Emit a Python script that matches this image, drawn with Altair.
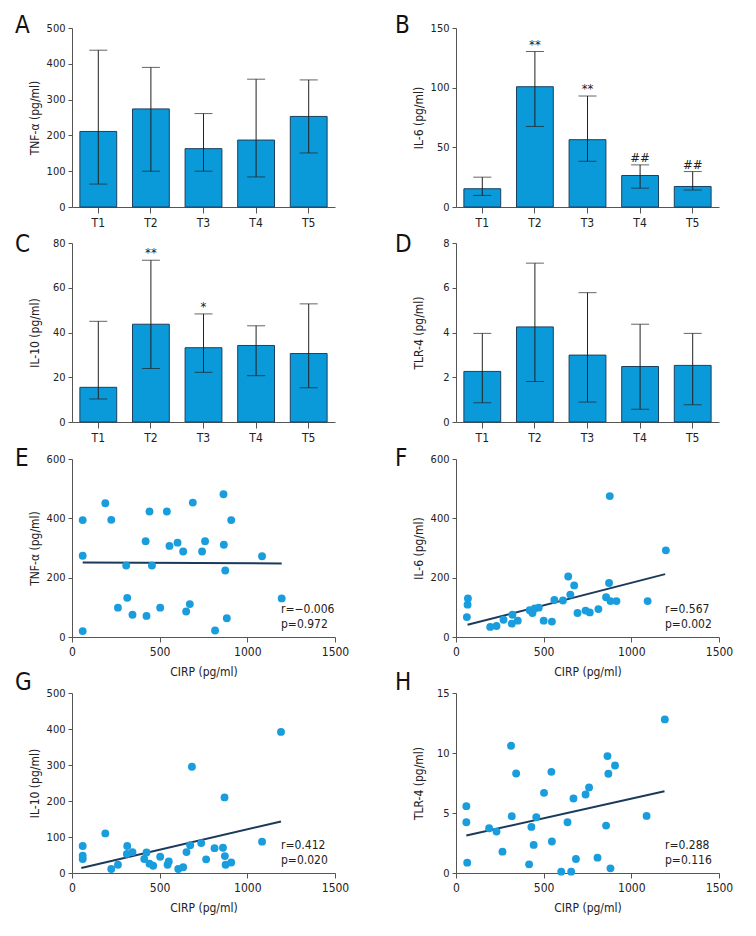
import altair as alt
import pandas as pd

FONT = "Liberation Sans Narrow, DejaVu Sans Condensed, sans-serif"
BAR_FILL = "#0a9ad9"
BAR_EDGE = "#1d3f5e"
ERR = "#222222"
DOT = "#1a9ddc"
LINE = "#1b3a5a"
AXIS = "#555555"

# ---------------- bar-chart data (T1..T5) ----------------
groups = ["T1", "T2", "T3", "T4", "T5"]

tnf_bar = [211, 274, 163, 187, 253]
tnf_lo = [64, 100, 100, 84, 151]
tnf_hi = [438, 390, 261, 357, 355]
tnf_sig = ["", "", "", "", ""]

il6_bar = [15.3, 100.8, 56.4, 26.4, 17.2]
il6_lo = [9.7, 67.5, 38.3, 15.8, 14.2]
il6_hi = [25.0, 130.3, 93.0, 35.3, 29.7]
il6_sig = ["", "**", "**", "##", "##"]

il10_bar = [15.5, 43.7, 33.2, 34.2, 30.6]
il10_lo = [10.3, 23.9, 22.2, 20.7, 15.3]
il10_hi = [45.0, 72.3, 48.3, 43.0, 52.8]
il10_sig = ["", "**", "*", "", ""]

tlr4_bar = [2.26, 4.25, 2.99, 2.48, 2.53]
tlr4_lo = [0.86, 1.81, 0.89, 0.57, 0.77]
tlr4_hi = [3.96, 7.10, 5.78, 4.37, 3.96]
tlr4_sig = ["", "", "", "", ""]

# ---------------- scatter data (CIRP vs cytokine) ----------------
e_cirp = [61, 61, 61, 190, 224, 309, 315, 262, 345, 420, 442, 425, 456, 503, 541, 556,
          602, 634, 651, 672, 689, 742, 759, 816, 864, 866, 874, 883, 908, 1084, 1196]
e_tnf = [20, 274, 394, 451, 395, 241, 132, 99, 75, 323, 423, 71, 241, 99, 423, 307,
         318, 288, 86, 111, 453, 288, 323, 22, 481, 311, 224, 63, 394, 272, 130]
e_fit_x = [61, 1196]
e_fit_y = [251, 248]

f_cirp = [62, 66, 68, 195, 231, 271, 318, 322, 352, 420, 436, 449, 472, 500, 547, 561,
          610, 640, 652, 674, 693, 739, 763, 812, 856, 873, 881, 915, 877, 1093, 1197]
f_il6 = [67, 109, 130, 34, 37, 58, 45, 75, 55, 90, 81, 96, 99, 55, 52, 125,
         123, 204, 143, 174, 81, 89, 83, 94, 134, 182, 121, 121, 475, 121, 292]
f_fit_x = [66, 1193]
f_fit_y = [41, 212]

g_cirp = [61, 61, 61, 190, 224, 262, 315, 313, 345, 412, 425, 442, 463, 503, 545, 552,
          606, 634, 653, 674, 684, 737, 765, 813, 861, 872, 876, 870, 908, 1084, 1192]
g_il10 = [75, 48, 39, 110, 11, 23, 75, 53, 58, 39, 57, 26, 20, 45, 23, 32,
          11, 16, 58, 77, 295, 83, 38, 69, 70, 47, 23, 210, 29, 87, 392]
g_fit_x = [53, 1192]
g_fit_y = [14, 143]

h_cirp = [59, 59, 64, 189, 231, 265, 314, 318, 343, 417, 430, 443, 458, 502, 544, 547,
          600, 636, 657, 670, 684, 739, 759, 807, 856, 864, 869, 881, 907, 1087, 1191]
h_tlr4 = [5.57, 4.23, 0.86, 3.73, 3.45, 1.78, 10.6, 4.73, 8.29, 0.72, 3.84, 2.34, 4.65, 6.68, 8.43, 2.62,
          0.11, 4.23, 0.11, 6.21, 1.17, 6.54, 7.12, 1.28, 3.95, 9.74, 8.27, 0.39, 8.96, 4.76, 12.8]
h_fit_x = [59, 1189]
h_fit_y = [3.12, 6.82]

W, H = 263, 179


def letter_layer(letter, dx, dy):
    return alt.Chart(pd.DataFrame({"t": [letter]})).mark_text(
        align="left", baseline="alphabetic", font=FONT, fontSize=24, color="#111111"
    ).encode(x=alt.value(dx), y=alt.value(dy), text="t:N")


def yaxis(title, values, h):
    return alt.Axis(values=values, title=title, titleX=-38, titleY=h / 2, titleAngle=270,
                    titleAlign="center", titleBaseline="middle", tickSize=4, labelPadding=3,
                    labelFlush=False,
                    format="d" if all(float(v).is_integer() for v in values) else "")


def bar_panel(letter, ytitle, vals, lo, hi, sig, ymax, ystep, ldx, ldy):
    df = pd.DataFrame({"g": groups, "v": vals, "lo": lo, "hi": hi, "sig": sig})
    xs = alt.Scale(paddingInner=0.3, paddingOuter=0.15)
    xax = alt.Axis(labelAngle=0, tickSize=6, labelPadding=4, title=None)
    ys = alt.Scale(domain=[0, ymax], nice=False)
    yv = [i * ystep for i in range(int(round(ymax / ystep)) + 1)]
    yax = yaxis(ytitle, yv, H)

    def X():
        return alt.X("g:N", sort=groups, scale=xs, axis=xax)

    def Y(f):
        return alt.Y(f, scale=ys, axis=yax)

    base = alt.Chart(df)
    bars = base.mark_bar(fill=BAR_FILL, stroke=BAR_EDGE, strokeWidth=1).encode(x=X(), y=Y("v:Q"))
    err = base.mark_rule(color=ERR, strokeWidth=1).encode(x=X(), y=Y("lo:Q"), y2="hi:Q")
    cap_hi = base.mark_tick(color=ERR, size=18, thickness=1).encode(x=X(), y=Y("hi:Q"))
    cap_lo = base.mark_tick(color=ERR, size=18, thickness=1).encode(x=X(), y=Y("lo:Q"))
    star = base.mark_text(font=FONT, fontSize=13, dy=-3, baseline="alphabetic", color="#222222").encode(
        x=X(), y=Y("hi:Q"), text="sig:N")
    return alt.layer(bars, err, cap_hi, cap_lo, star, letter_layer(letter, ldx, ldy)).properties(
        width=W, height=H)


def scatter_panel(letter, ytitle, xv, yv_, fx, fy, ymax, ystep, rtxt, ptxt, ldx, ldy, h):
    df = pd.DataFrame({"x": xv, "y": yv_})
    ldf = pd.DataFrame({"x": fx, "y": fy})
    xsc = alt.Scale(domain=[0, 1500], nice=False)
    ysc = alt.Scale(domain=[0, ymax], nice=False)
    yv = [i * ystep for i in range(int(round(ymax / ystep)) + 1)]
    xaxis = alt.Axis(values=[0, 500, 1000, 1500], format="d", title="CIRP (pg/ml)", titleY=34,
                     titleBaseline="middle", tickSize=5, labelPadding=4, labelFlush=False)
    yax = yaxis(ytitle, yv, h)
    pts = alt.Chart(df).mark_circle(size=62, color=DOT, opacity=1).encode(
        x=alt.X("x:Q", scale=xsc, axis=xaxis),
        y=alt.Y("y:Q", scale=ysc, axis=yax))
    line = alt.Chart(ldf).mark_line(color=LINE, strokeWidth=2).encode(
        x=alt.X("x:Q", scale=xsc, axis=xaxis),
        y=alt.Y("y:Q", scale=ysc, axis=yax))
    r = alt.Chart(pd.DataFrame({"t": [rtxt]})).mark_text(
        align="left", baseline="middle", font=FONT, fontSize=12, color="#222222"
    ).encode(x=alt.value(209), y=alt.value(h - 28), text="t:N")
    p = alt.Chart(pd.DataFrame({"t": [ptxt]})).mark_text(
        align="left", baseline="middle", font=FONT, fontSize=12, color="#222222"
    ).encode(x=alt.value(209), y=alt.value(h - 13), text="t:N")
    return alt.layer(line, pts, r, p, letter_layer(letter, ldx, ldy)).properties(width=W, height=h)


pA = bar_panel("A", "TNF-α (pg/ml)", tnf_bar, tnf_lo, tnf_hi, tnf_sig, 500, 100, -57, 5)
pB = bar_panel("B", "IL-6 (pg/ml)", il6_bar, il6_lo, il6_hi, il6_sig, 150, 50, -61, 5)
pC = bar_panel("C", "IL-10 (pg/ml)", il10_bar, il10_lo, il10_hi, il10_sig, 80, 20, -57, 9)
pD = bar_panel("D", "TLR-4 (pg/ml)", tlr4_bar, tlr4_lo, tlr4_hi, tlr4_sig, 8, 2, -61, 9)

pE = scatter_panel("E", "TNF-α (pg/ml)", e_cirp, e_tnf, e_fit_x, e_fit_y, 600, 200,
                   "r=−0.006", "p=0.972", -57, 7, 178)
pF = scatter_panel("F", "IL-6 (pg/ml)", f_cirp, f_il6, f_fit_x, f_fit_y, 600, 200,
                   "r=0.567", "p=0.002", -61, 7, 178)
pG = scatter_panel("G", "IL-10 (pg/ml)", g_cirp, g_il10, g_fit_x, g_fit_y, 500, 100,
                   "r=0.412", "p=0.020", -57, -3, 180)
pH = scatter_panel("H", "TLR-4 (pg/ml)", h_cirp, h_tlr4, h_fit_x, h_fit_y, 15, 5,
                   "r=0.288", "p=0.116", -61, -3, 180)

rowA = alt.hconcat(pA, pB, spacing=121, bounds="flush")
rowC = alt.hconcat(pC, pD, spacing=121, bounds="flush")
rowE = alt.hconcat(pE, pF, spacing=121, bounds="flush")
rowG = alt.hconcat(pG, pH, spacing=121, bounds="flush")

chart = alt.vconcat(
    rowA,
    alt.vconcat(rowC, alt.vconcat(rowE, rowG, spacing=-6), spacing=4),
    spacing=5,
).properties(
    padding={"left": 7, "top": 6, "right": 5, "bottom": 5}
).configure_view(stroke=None).configure_axis(
    grid=False, domainColor=AXIS, tickColor=AXIS, labelColor="#222222", titleColor="#222222",
    labelFont=FONT, titleFont=FONT, labelFontSize=11, titleFontSize=12, titleFontWeight="normal",
    domainWidth=1, tickWidth=1
).configure_axisX(labelFontSize=12)

chart.save("out.html", embed_options={"renderer": "svg", "actions": False})
